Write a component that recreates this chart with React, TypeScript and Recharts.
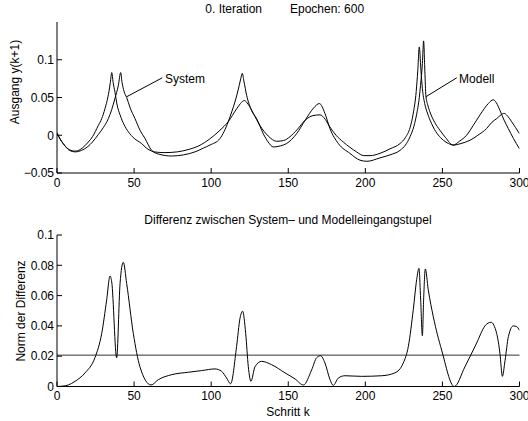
import React from 'react';
import { LineChart, Line, XAxis, YAxis, ReferenceLine, ReferenceDot } from 'recharts';

// Top chart: two output curves (k, y)
const kCurveA = [0, 2, 4, 6, 8, 11.7, 15, 18, 20.3, 23, 26.8, 29, 31.1, 33.7, 34.6, 35.5, 36.4, 37.6, 39, 40.9, 43.5, 46.3, 50, 54.9, 58, 61.4, 65, 70, 78, 85, 92, 99, 105.7, 111.1, 116.5, 119, 121.5, 124, 127.3, 131.6, 137, 142.5, 147, 151.1, 156, 161, 166, 170.6, 174, 177, 181, 185.7, 190, 194.3, 199, 203, 209.5, 216, 222.5, 226, 229, 231, 233, 234, 235, 236, 237, 238.5, 240, 242, 244, 250.6, 254, 257, 261, 265.7, 270, 274.4, 279.8, 283, 285, 287.3, 290, 292.7, 296, 300];
const yCurveA = [0.003, -0.005, -0.011, -0.016, -0.019, -0.021, -0.019, -0.014, -0.009, -0.002, 0.013, 0.022, 0.035, 0.058, 0.07, 0.083, 0.07, 0.057, 0.04, 0.027, 0.014, 0.0045, -0.004, -0.011, -0.017, -0.021, -0.0225, -0.023, -0.022, -0.019, -0.014, -0.005, 0.0066, 0.018, 0.035, 0.042, 0.046, 0.041, 0.029, 0.013, -0.001, -0.008, -0.007, -0.002, 0.008, 0.02, 0.026, 0.027, 0.021, 0.011, 0.0, -0.009, -0.016, -0.022, -0.027, -0.027, -0.024, -0.018, -0.011, -0.003, 0.01, 0.028, 0.058, 0.085, 0.117, 0.088, 0.062, 0.042, 0.031, 0.02, 0.011, -0.0066, -0.011, -0.013, -0.008, 0.0, 0.013, 0.027, 0.042, 0.047, 0.043, 0.033, 0.02, 0.009, -0.004, -0.018];

const kCurveB = [0, 2, 4, 6, 8, 12, 16, 20, 23, 26.8, 30, 33.3, 35.5, 37.6, 39.8, 41.3, 42.2, 43.5, 45.2, 47.5, 50.6, 54, 57, 61.4, 66, 74.4, 82, 89.5, 95, 99.2, 105.7, 111.1, 113.5, 115.4, 118.2, 119.2, 120.2, 121.2, 123, 126.2, 129.5, 133.8, 137, 140.3, 145, 148.9, 155.4, 161, 166.4, 170.2, 173.8, 177, 182.5, 190, 196.5, 201, 209.5, 216, 222.5, 226, 229, 231.5, 233.2, 235, 235.8, 237, 237.8, 238.6, 239.3, 240.5, 241.9, 245, 248.4, 252, 257, 262, 267.9, 273, 278.7, 282, 285.2, 288, 290, 292, 294.9, 297.5, 300];
const yCurveB = [0.003, -0.005, -0.011, -0.016, -0.02, -0.022, -0.02, -0.015, -0.009, 0.001, 0.01, 0.022, 0.034, 0.049, 0.066, 0.083, 0.07, 0.058, 0.05, 0.036, 0.022, 0.006, -0.004, -0.02, -0.025, -0.0275, -0.026, -0.022, -0.017, -0.013, -0.0044, 0.018, 0.032, 0.044, 0.066, 0.075, 0.082, 0.072, 0.053, 0.033, 0.022, 0.002, -0.009, -0.0155, -0.014, -0.011, 0.002, 0.02, 0.036, 0.042, 0.029, 0.009, -0.011, -0.024, -0.033, -0.0345, -0.03, -0.026, -0.02, -0.013, -0.002, 0.012, 0.027, 0.05, 0.066, 0.095, 0.125, 0.085, 0.052, 0.04, 0.031, 0.017, 0.0066, -0.003, -0.013, -0.011, -0.0066, 0.0, 0.009, 0.017, 0.022, 0.027, 0.029, 0.026, 0.018, 0.01, 0.002];

// Bottom chart: norm of difference (k, value)
const kDiff = [0, 4, 7.3, 11.7, 18.2, 24.6, 29, 32.2, 34.4, 35.5, 38.7, 40.9, 43, 45.2, 49.5, 53.8, 61, 65.7, 74.4, 85.2, 93.8, 102.5, 106.8, 110, 112.6, 116.5, 118.7, 120.4, 122.4, 124.1, 125.8, 128.4, 132.7, 139.2, 147.9, 154.4, 159.8, 165.2, 168.4, 171, 173.8, 177.1, 179.2, 182.5, 186.8, 197.6, 210.6, 219.2, 224.6, 227.9, 231.1, 233.3, 234.8, 235.9, 237, 237.8, 238.9, 240.8, 244.1, 249.5, 257.7, 264.6, 272.2, 277.6, 281.5, 285.2, 287.3, 288.9, 290.6, 292.8, 296, 298.2, 300];
const yDiff = [0, 0.0003, 0.001, 0.0034, 0.009, 0.019, 0.035, 0.057, 0.073, 0.069, 0.019, 0.068, 0.082, 0.068, 0.035, 0.013, 0.001, 0.0045, 0.0078, 0.0094, 0.0105, 0.0116, 0.01, 0.0056, 0.0018, 0.0265, 0.045, 0.0497, 0.035, 0.013, 0.0034, 0.013, 0.0166, 0.0144, 0.009, 0.005, 0.001, 0.011, 0.019, 0.0203, 0.0155, 0.0045, 0.0007, 0.0056, 0.0071, 0.0067, 0.0071, 0.009, 0.0155, 0.0265, 0.0507, 0.0705, 0.078, 0.057, 0.0335, 0.057, 0.0776, 0.064, 0.046, 0.024, 0.0, 0.013, 0.0287, 0.04, 0.0424, 0.035, 0.022, 0.0067, 0.017, 0.033, 0.04, 0.0395, 0.037];
const threshold = 0.0207;

const xTicks = [0, 50, 100, 150, 200, 250, 300];
const topYTicks = [-0.05, 0, 0.05, 0.1];
const bottomYTicks = [0, 0.02, 0.04, 0.06, 0.08, 0.1];

const topTitleLeft = '0. Iteration';
const topTitleRight = 'Epochen: 600';
const bottomTitle = 'Differenz zwischen System\u2013 und Modelleingangstupel';
const topYLabel = 'Ausgang y(k+1)';
const bottomYLabel = 'Norm der Differenz';
const xLabel = 'Schritt k';

const rows = (ks: number[], ys: number[]) => ks.map((k, i) => ({ k, y: ys[i] }));
const dataA = rows(kCurveA, yCurveA);
const dataB = rows(kCurveB, yCurveB);
const dataD = rows(kDiff, yDiff);

const FONT = 'Liberation Sans, Arial, Helvetica, sans-serif';
const tickStyle = { fontSize: 12, fill: '#000', fontFamily: FONT };
const fmt = (v: number) => (v < 0 ? '\u2212' + String(Math.abs(v)) : String(v));

const annotation = (label: string) => (p: any) => (
  <text x={p.cx} y={p.cy} fontSize={12} fontFamily={FONT} fill="#000" dominantBaseline="central">
    {label}
  </text>
);

export default function App() {
  return (
    <div style={{ position: 'absolute', left: 0, top: 0, width: 528, height: 421, background: '#fff' }}>
      <div style={{ position: 'absolute', left: 0, top: 0 }}>
        <LineChart width={528} height={200} margin={{ top: 22, right: 8.5, left: 0, bottom: 0 }}>
          <XAxis dataKey="k" type="number" domain={[0, 300]} ticks={xTicks} interval={0} height={27}
            stroke="#000" tickSize={-5} tickMargin={10} tick={tickStyle} allowDataOverflow />
          <XAxis xAxisId="t" orientation="top" dataKey="k" type="number" domain={[0, 300]} ticks={xTicks}
            interval={0} height={0} stroke="#000" tickSize={-5} tick={false} allowDataOverflow />
          <YAxis type="number" domain={[-0.05, 0.15]} ticks={topYTicks} interval={0} width={57}
            stroke="#000" tickSize={-5} tickMargin={8} tick={tickStyle} tickFormatter={fmt} allowDataOverflow />
          <YAxis yAxisId="r" orientation="right" type="number" domain={[-0.05, 0.15]} ticks={topYTicks}
            interval={0} width={0} stroke="#000" tickSize={-5} tick={false} allowDataOverflow />
          <Line data={dataA} dataKey="y" type="monotone" stroke="#000" strokeWidth={1} dot={false} isAnimationActive={false} />
          <Line data={dataB} dataKey="y" type="monotone" stroke="#000" strokeWidth={1} dot={false} isAnimationActive={false} />
          <ReferenceLine segment={[{ x: 45.2, y: 0.051 }, { x: 68.3, y: 0.0761 }]} stroke="#000" strokeWidth={1} />
          <ReferenceLine segment={[{ x: 239.3, y: 0.051 }, { x: 259.3, y: 0.0761 }]} stroke="#000" strokeWidth={1} />
          <ReferenceDot x={70.0} y={0.0743} r={0} shape={annotation('System')} />
          <ReferenceDot x={260.8} y={0.0743} r={0} shape={annotation('Modell')} />
        </LineChart>
      </div>
      <div style={{ position: 'absolute', left: 0, top: 200 }}>
        <LineChart width={528} height={221} margin={{ top: 35, right: 8.5, left: 0, bottom: 0 }}>
          <XAxis dataKey="k" type="number" domain={[0, 300]} ticks={xTicks} interval={0} height={34.5}
            stroke="#000" tickSize={-5} tickMargin={10} tick={tickStyle} allowDataOverflow />
          <XAxis xAxisId="t" orientation="top" dataKey="k" type="number" domain={[0, 300]} ticks={xTicks}
            interval={0} height={0} stroke="#000" tickSize={-5} tick={false} allowDataOverflow />
          <YAxis type="number" domain={[0, 0.1]} ticks={bottomYTicks} interval={0} width={57}
            stroke="#000" tickSize={-5} tickMargin={8} tick={tickStyle} tickFormatter={fmt} allowDataOverflow />
          <YAxis yAxisId="r" orientation="right" type="number" domain={[0, 0.1]} ticks={bottomYTicks}
            interval={0} width={0} stroke="#000" tickSize={-5} tick={false} allowDataOverflow />
          <ReferenceLine y={threshold} stroke="#333" strokeWidth={1} />
          <Line data={dataD} dataKey="y" type="monotone" stroke="#000" strokeWidth={1} dot={false} isAnimationActive={false} />
        </LineChart>
      </div>
      <svg width={528} height={421} style={{ position: 'absolute', left: 0, top: 0, pointerEvents: 'none' }}>
        <g fontFamily={FONT} fontSize={12} fill="#000">
          <text x={262} y={13} textAnchor="end">{topTitleLeft}</text>
          <text x={290} y={13} textAnchor="start">{topTitleRight}</text>
          <text x={288} y={224} textAnchor="middle">{bottomTitle}</text>
          <text x={288} y={416} textAnchor="middle">{xLabel}</text>
          <text transform="translate(19,82) rotate(-90)" textAnchor="middle">{topYLabel}</text>
          <text transform="translate(25,311) rotate(-90)" textAnchor="middle">{bottomYLabel}</text>
        </g>
      </svg>
    </div>
  );
}
